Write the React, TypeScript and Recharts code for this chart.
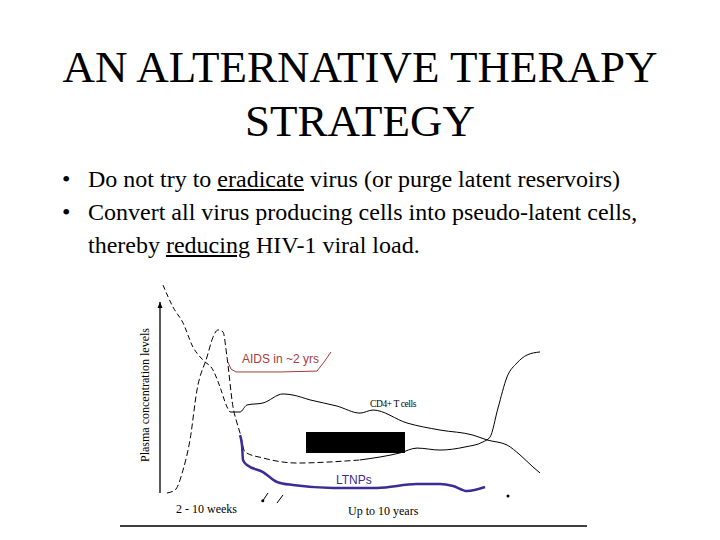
import React from 'react';
import { LineChart, Line, XAxis, YAxis, ReferenceArea, ReferenceLine, ReferenceDot } from 'recharts';

// time (0-100, left to right) and plasma level (0-100)
const cd4Time = [0.75, 3.25, 5.75, 8.25, 10.75, 13.25, 15, 16.75, 17.5, 20, 21.75, 25.75, 30.75, 33.25, 37.5, 44.25, 50, 53.25, 61.75, 70, 78.25, 81.75, 86.75, 90, 93.25, 95];
const cd4Level = [97.7, 87.7, 80.5, 69.5, 63.6, 59.1, 51.4, 42.3, 40, 40, 43.2, 44.1, 48.2, 47.7, 45.5, 42.7, 39.5, 40.9, 35, 31.8, 29.5, 27.3, 25, 20.5, 15, 12.3];

const virusTime = [1.75, 3.75, 5.75, 7.5, 9.25, 11.75, 13.25, 14.5, 15.75, 16.75, 18.25, 19.25, 20, 21.25, 25.75, 34.25, 42.5, 50, 60, 64.25, 70, 76.25, 80.75, 82.5, 84.5, 86.75, 89.25, 91.75, 95];
const virusLevel = [3.2, 4.5, 13.6, 27.3, 50, 65, 74, 77.3, 76.4, 65, 42.3, 35, 30.5, 21.8, 19.1, 16.8, 17.3, 18.2, 21.4, 23.6, 22.7, 24.1, 26.4, 28.6, 41.8, 55.9, 62.3, 65.9, 67.3];

const ltnpTime = [20, 20.5, 20.75, 21.75, 25.75, 29.25, 33.25, 43.25, 54.25, 64.25, 70, 73.25, 76.75, 81.25];
const ltnpLevel = [29.5, 25, 18.2, 15.9, 12.7, 8.2, 6.8, 5.5, 5.5, 7.3, 7.3, 6.4, 4.1, 5.9];

const aidsTime = [17, 17.75, 19, 30, 39.25, 41, 42.75];
const aidsLevel = [62.7, 59.5, 58.2, 58.2, 58.6, 62.7, 67.3];

const bullets = [
  ['Do not try to ', 'eradicate', ' virus (or purge latent reservoirs)'],
  ['Convert all virus producing cells into pseudo-latent cells,'],
  ['thereby ', 'reducing', ' HIV-1 viral load.'],
];

const zip = (t: number[], v: number[]) => t.map((x, i) => ({ t: x, v: v[i] }));
const cd4 = zip(cd4Time, cd4Level);
const virus = zip(virusTime, virusLevel);
const ltnp = zip(ltnpTime, ltnpLevel);
const aids = zip(aidsTime, aidsLevel);

const serif = '"Liberation Serif", "Times New Roman", serif';
const sans = '"Liberation Sans", Arial, sans-serif';

const ArrowLine = (p: any) => (
  <g>
    <line x1={p.x1} y1={p.y1} x2={p.x2} y2={p.y2} stroke="#000" strokeWidth={1.3} />
    <path d={`M${p.x2 - 2.5},${p.y2 + 6} L${p.x2},${p.y2} L${p.x2 + 2.5},${p.y2 + 6} Z`} fill="#000" />
  </g>
);

const txt = (top: number, left: number, size: number, extra: React.CSSProperties = {}) => ({
  position: 'absolute' as const,
  top,
  left,
  fontSize: size,
  lineHeight: `${size}px`,
  whiteSpace: 'nowrap' as const,
  fontFamily: serif,
  ...extra,
});

export default function App() {
  return (
    <div style={{ position: 'absolute', left: 0, top: 0, width: 720, height: 540, background: '#fff', fontFamily: serif }}>
      <div style={{ position: 'absolute', top: 45, left: 0, width: 720, textAlign: 'center', fontSize: 45, lineHeight: '45px' }}>
        AN ALTERNATIVE THERAPY
      </div>
      <div style={{ position: 'absolute', top: 99, left: 0, width: 720, textAlign: 'center', fontSize: 45, lineHeight: '45px' }}>
        STRATEGY
      </div>

      <div style={txt(167, 62, 24)}>•</div>
      <div style={txt(200, 62, 24)}>•</div>
      {bullets.map((parts, i) => (
        <div key={i} style={txt(167 + i * 33, 88, 24)}>
          {parts.map((s, j) => (j === 1 ? <u key={j}>{s}</u> : <span key={j}>{s}</span>))}
        </div>
      ))}

      <div style={{ position: 'absolute', left: 0, top: 0 }}>
        <LineChart width={720} height={540} margin={{ left: 160, right: 160, top: 280, bottom: 40 }}>
          <XAxis type="number" dataKey="t" domain={[0, 100]} hide allowDataOverflow />
          <YAxis type="number" dataKey="v" domain={[0, 100]} hide allowDataOverflow />
          <ReferenceLine
            segment={[{ x: 0, y: 3.2 }, { x: 0, y: 90 }]}
            ifOverflow="visible"
            shape={ArrowLine}
          />
          <ReferenceLine segment={[{ x: -10, y: -11.8 }, { x: 106.75, y: -11.8 }]} ifOverflow="visible" stroke="#000" strokeWidth={1.5} />
          <ReferenceLine segment={[{ x: 25.5, y: -0.9 }, { x: 27, y: 3.2 }]} ifOverflow="visible" stroke="#000" strokeWidth={1} />
          <ReferenceLine segment={[{ x: 29.25, y: -1.4 }, { x: 30.75, y: 2.3 }]} ifOverflow="visible" stroke="#000" strokeWidth={1} />
          <ReferenceDot x={25.7} y={-0.3} r={1.5} fill="#000" stroke="none" ifOverflow="visible" />
          <ReferenceDot x={87} y={1.8} r={1.5} fill="#000" stroke="none" ifOverflow="visible" />

          <Line data={cd4.filter((d) => d.t <= 17.5)} dataKey="v" type="monotone" stroke="#000" strokeWidth={1} strokeDasharray="5 3" dot={false} isAnimationActive={false} />
          <Line data={cd4.filter((d) => d.t >= 17.5)} dataKey="v" type="monotone" stroke="#000" strokeWidth={1} dot={false} isAnimationActive={false} />
          <Line data={virus.filter((d) => d.t <= 50)} dataKey="v" type="monotone" stroke="#000" strokeWidth={1} strokeDasharray="6 3" dot={false} isAnimationActive={false} />
          <Line data={virus.filter((d) => d.t >= 50)} dataKey="v" type="monotone" stroke="#000" strokeWidth={1} dot={false} isAnimationActive={false} />
          <Line data={aids} dataKey="v" type="linear" stroke="#a83c3c" strokeWidth={1} dot={false} isAnimationActive={false} />
          <Line data={ltnp} dataKey="v" type="monotone" stroke="#3d2b96" strokeWidth={2.5} dot={false} isAnimationActive={false} />

          <ReferenceArea x1={36.5} x2={61.25} y1={21.4} y2={30.9} fill="#000" fillOpacity={1} stroke="none" />
        </LineChart>
      </div>

      <div style={{ ...txt(389, 77, 12), width: 136, textAlign: 'center', transform: 'rotate(-90deg)' }}>
        Plasma concentration levels
      </div>
      <div style={txt(353, 242, 12, { fontFamily: sans, color: '#a83c3c' })}>AIDS in ~2 yrs</div>
      <div style={txt(400, 370, 9.5, { letterSpacing: -0.4 })}>CD4+ T cells</div>
      <div style={txt(474, 336, 12, { fontFamily: sans, color: '#3d2b96' })}>LTNPs</div>
      <div style={txt(503, 176, 12)}>2 - 10 weeks</div>
      <div style={txt(505, 348, 12)}>Up to 10 years</div>
    </div>
  );
}
